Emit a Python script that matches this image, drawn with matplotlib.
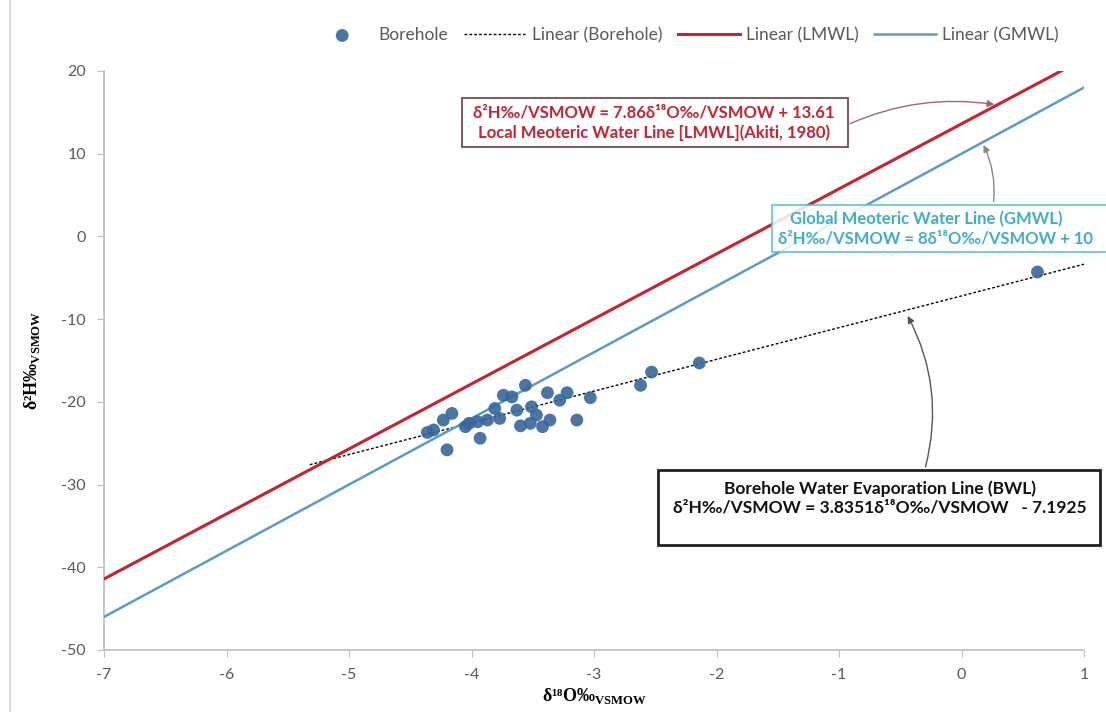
"""
Stable isotope plot: d18O vs d2H for borehole waters with LMWL, GMWL and BWL.
"""
import numpy as np
import matplotlib
matplotlib.use("Agg")
import matplotlib.pyplot as plt
from matplotlib.patches import Rectangle

#########################################################
# Data
#########################################################

# borehole samples (d18O, d2H)
borehole_o18 = [-4.36, -4.31, -4.20, -4.23, -4.16, -4.05, -3.93, -3.95, -3.87,
                -3.77, -3.74, -3.67, -3.56, -3.63, -3.51, -3.52, -3.47, -3.38,
                -3.36, -3.81, -3.22, -3.28, -3.03, -3.14, -2.62, -2.53, -2.14,
                0.62, -3.42, -4.02, -3.60]
borehole_h2 = [-23.7, -23.4, -25.8, -22.2, -21.4, -23.0, -24.4, -22.4, -22.2,
               -22.0, -19.2, -19.4, -18.0, -21.0, -20.6, -22.6, -21.6, -18.9,
               -22.2, -20.8, -18.9, -19.8, -19.5, -22.2, -18.0, -16.4, -15.3,
               -4.3, -23.0, -22.6, -22.9]

# trend lines: slope, intercept, x range
lmwl = (7.86, 13.61, [-7.0, 1.0])
gmwl = (8.0, 10.0, [-7.0, 1.0])
bwl = (3.8351, -7.1925, [-5.32, 1.0])

x_ticks = [-7, -6, -5, -4, -3, -2, -1, 0, 1]
y_ticks = [20, 10, 0, -10, -20, -30, -40, -50]

#########################################################
# Style
#########################################################

COLOR_PTS = "#36679B"
COLOR_LMWL = "#CC2030"
COLOR_GMWL = "#5A9BCB"
COLOR_AXIS = "#BFBFBF"
COLOR_TICK = "#595959"
FONT = ["Lato", "DejaVu Sans"]
SERIF = ["Liberation Serif", "DejaVu Serif"]

W, H = 1106, 712


def px(x, y):
    # pixel coords (top-left origin) -> figure fraction
    return x / W, 1 - y / H


fig = plt.figure(figsize=(W / 100, H / 100), dpi=100)
ax = fig.add_axes([104 / W, 1 - 650 / H, (1084 - 104) / W, (650 - 71) / H])

#########################################################
# Plot
#########################################################

ax.scatter(borehole_o18, borehole_h2, s=85, color=COLOR_PTS, alpha=0.9,
           edgecolors="none", label="Borehole", zorder=4)

for (m, c, xr), color, lw, ls, lab in [
    (bwl, "black", 1.0, (0, (2, 1.5)), "Linear (Borehole)"),
    (lmwl, COLOR_LMWL, 2.2, "-", "Linear (LMWL)"),
    (gmwl, COLOR_GMWL, 1.8, "-", "Linear (GMWL)"),
]:
    xs = np.array(xr)
    ax.plot(xs, m * xs + c, color=color, lw=lw, ls=ls, label=lab, zorder=3)

ax.set_xlim(-7, 1)
ax.set_ylim(-50, 20)
ax.set_xticks(x_ticks)
ax.set_yticks(y_ticks)
ax.set_xticklabels([str(v) for v in x_ticks], family=FONT, fontsize=11.5,
                   color=COLOR_TICK)
ax.set_yticklabels([str(v) for v in y_ticks], family=FONT, fontsize=11.5,
                   color=COLOR_TICK)
ax.tick_params(length=5, color=COLOR_AXIS, pad=8)
for side in ["top", "right"]:
    ax.spines[side].set_visible(False)
for side in ["left", "bottom"]:
    ax.spines[side].set_color(COLOR_AXIS)
    ax.spines[side].set_linewidth(1.2)

ax.set_xlabel("δ¹⁸O‰$_{\\mathregular{VSMOW}}$", family=SERIF, fontsize=13,
              fontweight="bold", labelpad=3)
ax.set_ylabel("δ²H‰$_{\\mathregular{VSMOW}}$", family=SERIF, fontsize=13,
              fontweight="bold", labelpad=14)

# legend on top
fig.legend(loc="center", bbox_to_anchor=(0.619, 1 - 35 / H), ncol=4,
           frameon=False, prop={"family": FONT, "size": 12.5},
           labelcolor=COLOR_TICK, handlelength=3.6, columnspacing=0.9,
           handletextpad=0.3)

#########################################################
# Annotation boxes
#########################################################

# LMWL box
x0, y0 = px(462, 147)
x1, y1 = px(848, 98)
fig.patches.append(Rectangle((x0, y0), x1 - x0, y1 - y0, transform=fig.transFigure,
                             fill=True, facecolor="white", edgecolor="#7A4A4A",
                             lw=1.3, zorder=5))
fig.text(*px(654, 123), "δ²H‰/VSMOW = 7.86δ¹⁸O‰/VSMOW + 13.61\n"
         "Local Meoteric Water Line [LMWL](Akiti, 1980)",
         ha="center", va="center", family=FONT, fontsize=12,
         fontweight="bold", color=COLOR_LMWL, linespacing=1.3, zorder=6)

# GMWL box
x0, y0 = px(772, 252)
x1, y1 = px(1110, 205)
fig.patches.append(Rectangle((x0, y0), x1 - x0, y1 - y0, transform=fig.transFigure,
                             fill=True, facecolor="white", edgecolor="#4CC3D2",
                             lw=1.3, zorder=5, alpha=0.85))
fig.text(*px(778, 229), "   Global Meoteric Water Line (GMWL)\n"
         "δ²H‰/VSMOW = 8δ¹⁸O‰/VSMOW + 10",
         ha="left", va="center", family=FONT, fontsize=12,
         fontweight="bold", color="#40AFC4", linespacing=1.25, zorder=6)

# BWL box
x0, y0 = px(658, 545)
x1, y1 = px(1100, 470)
fig.patches.append(Rectangle((x0, y0), x1 - x0, y1 - y0, transform=fig.transFigure,
                             fill=True, facecolor="white", edgecolor="#222222",
                             lw=2.0, zorder=5))
fig.text(*px(880, 498), "Borehole Water Evaporation Line (BWL)\n"
         "δ²H‰/VSMOW = 3.8351δ¹⁸O‰/VSMOW   - 7.1925",
         ha="center", va="center", family=FONT, fontsize=12.5,
         fontweight="bold", color="#111111", linespacing=1.25, zorder=6)

# arrows from boxes to lines
ax.annotate("", xy=(0.29, 7.86 * 0.29 + 13.61), xytext=(-0.93, 13.5),
            arrowprops=dict(arrowstyle="-|>", color="#9A6A6A", lw=1.0,
                            connectionstyle="arc3,rad=-0.15"), zorder=6)
ax.annotate("", xy=(0.17, 8 * 0.17 + 10), xytext=(0.26, 3.9),
            arrowprops=dict(arrowstyle="-|>", color="#888888", lw=1.0,
                            connectionstyle="arc3,rad=0.15"), zorder=6)
ax.annotate("", xy=(-0.45, 3.8351 * -0.45 - 7.1925 - 0.4), xytext=(-0.3, -28.2),
            arrowprops=dict(arrowstyle="-|>", color="#555555", lw=1.0,
                            connectionstyle="arc3,rad=0.2"), zorder=6)

# chart area border on the left
fig.add_artist(plt.Line2D([10 / W, 10 / W], [0, 1], transform=fig.transFigure,
                          color="#D9D9D9", lw=1.5))

fig.savefig("out.png", dpi=100, facecolor="white")
